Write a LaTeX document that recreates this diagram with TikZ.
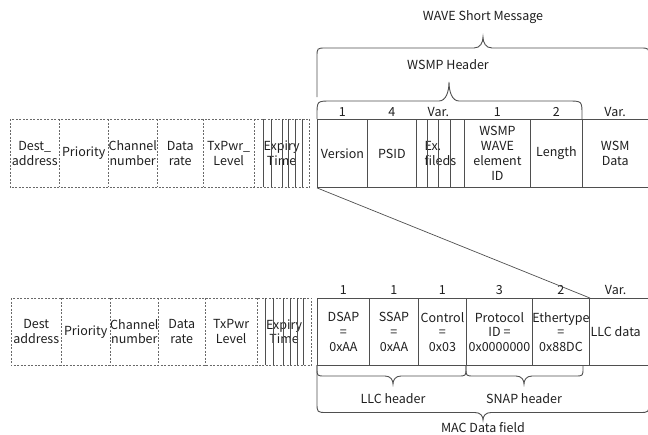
\documentclass[tikz,border=0pt]{standalone}
\usepackage{fontspec}
\setmainfont{Noto Sans CJK KR}
\definecolor{ink}{HTML}{1E1E1E}
\definecolor{rule}{HTML}{4F4F4F}
\tikzset{
  base/.style={font=\fontsize{12.5}{14.8}\selectfont, text=ink, inner sep=0pt},
  cell/.style={base, anchor=north west, align=center, minimum height=68pt},
  solidcell/.style={cell, draw=rule, line width=0.9pt},
  openline/.style={draw=rule, line width=0.9pt},
  dashline/.style={draw=rule!85, line width=0.8pt, dash pattern=on 2pt off 1.5pt},
  bracestyle/.style={draw=rule, line width=0.9pt},
  num/.style={base, anchor=base},
}
% horizontal curly brace: x1, x2, y of the free ends, y of the bar, x of tip, y of tip, corner radius, tip half-width
\newcommand\fieldbrace[8]{%
  \draw[bracestyle] (#1,#3) -- (#1,{#4+#7*sign(#3-#4)})
    .. controls (#1,#4) .. ({#1+#7},#4) -- ({#5-#8},#4)
    .. controls ({#5-0.3*#8},#4) and (#5,{#4+0.5*(#6-#4)}) .. (#5,#6)
    .. controls (#5,{#4+0.5*(#6-#4)}) and ({#5+0.3*#8},#4) .. ({#5+#8},#4)
    -- ({#2-#7},#4) .. controls (#2,#4) .. (#2,{#4+#7*sign(#3-#4)}) -- (#2,#3);}
\begin{document}
\begin{tikzpicture}[x=1pt, y=-1pt]
\useasboundingbox (0,0) rectangle (648,434);
\clip (0,0) rectangle (648,434);

% ---------- upper frame: WSMP request primitive fields ----------
\node[cell, minimum width=49pt] (d1) at (10,119) {Dest\_\\address};
\node[cell, minimum width=49pt] (d2) at (59,119) {Priority};
\node[cell, minimum width=49pt] (d3) at (108,119) {Channel\\number};
\node[cell, minimum width=46pt] (d4) at (157,119) {Data\\rate};
\node[cell, minimum width=51pt] (d5) at (203,119) {TxPwr\_\\Level};
\node[cell, minimum width=55pt] (d6) at (254,119) {Expiry\\Time};
\draw[dashline] (d1.north west) rectangle (d6.south east);
\foreach \c in {d1,d2,d3,d4,d5}
  \draw[dashline] (\c.north east) -- (\c.south east);
\foreach \dx in {9,17,28.5,34.5,41.5,48}
  \draw[openline] ([xshift=\dx pt]d6.north west) -- ([xshift=\dx pt]d6.south west);

% WSMP packet
\node[solidcell, minimum width=50pt] (ver) at (317,119) {Version};
\node[solidcell, minimum width=49pt] (psid) at (367,119) {PSID};
\node[solidcell, minimum width=48pt, align=left] (exf) at (416,119) {Ex.\\fileds};
\node[solidcell, minimum width=66pt] (wid) at (464,119) {WSMP\\WAVE\\element\\ID};
\node[solidcell, minimum width=52pt] (len) at (530,119) {Length};
\node[cell, minimum width=66pt] (wsm) at (582,119) {WSM\\Data};
\draw[openline] (wsm.north west) -- (wsm.north east);
\draw[openline] (wsm.south west) -- (wsm.south east);
\foreach \dx in {11,22,34}
  \draw[openline] ([xshift=\dx pt]exf.north west) -- ([xshift=\dx pt]exf.south west);

\node[num] (t1) at ([yshift=2.5pt]ver.north) {1};
\node[num] (t2) at ([yshift=2.5pt]psid.north) {4};
\node[num] (t3) at ([yshift=2.5pt, xshift=-2pt]exf.north) {Var.};
\node[num] (t4) at ([yshift=2.5pt]wid.north) {1};
\node[num] (t5) at ([yshift=2.5pt]len.north) {2};
\node[num] (t6) at ([yshift=2.5pt]wsm.north) {Var.};

\fieldbrace{317}{582}{119}{101}{449}{82}{14}{10}
\node[base] (lwsmp) at (448,65) {WSMP Header};
\fieldbrace{317}{649}{97}{48}{483}{37}{9}{9}
\node[base] (lwave) at (483,17) {WAVE Short Message};

% ---------- lower frame: MAC data with LLC/SNAP ----------
\node[cell, minimum width=50pt, minimum height=67pt] (b1) at (11,298) {Dest\\address};
\node[cell, minimum width=49pt, minimum height=67pt] (b2) at (61,298) {Priority};
\node[cell, minimum width=48pt, minimum height=67pt] (b3) at (110,298) {Channel\\number};
\node[cell, minimum width=47pt, minimum height=67pt] (b4) at (158,298) {Data\\rate};
\node[cell, minimum width=52pt, minimum height=67pt] (b5) at (205,298) {TxPwr\\Level};
\node[cell, minimum width=54pt, minimum height=67pt] (b6) at (257,298) {Expiry\\Time};
\draw[dashline] (b1.north west) rectangle (b6.south east);
\foreach \c in {b1,b2,b3,b4,b5}
  \draw[dashline] (\c.north east) -- (\c.south east);
\foreach \dx in {8,16,26,33.5,40.5,46.5}
  \draw[openline] ([xshift=\dx pt]b6.north west) -- ([xshift=\dx pt]b6.south west);

\node[solidcell, minimum width=52pt, minimum height=67pt] (dsap) at (317,298) {DSAP\\=\\0xAA};
\node[solidcell, minimum width=49pt, minimum height=67pt] (ssap) at (369,298) {SSAP\\=\\0xAA};
\node[solidcell, minimum width=48pt, minimum height=67pt] (ctl) at (418,298) {Control\\=\\0x03};
\node[solidcell, minimum width=66pt, minimum height=67pt] (pid) at (466,298) {Protocol\\ID =\\0x0000000};
\node[solidcell, minimum width=51pt, minimum height=67pt] (eth) at (532,298) {Ethertype\\=\\0x88DC};
\node[cell, minimum width=65pt, minimum height=67pt] (llc) at (583,298) {LLC data};
\draw[openline] (llc.north west) -- (llc.north east);
\draw[openline] (llc.south west) -- (llc.south east);

\node[num] (u1) at ([yshift=3.5pt]dsap.north) {1};
\node[num] (u2) at ([yshift=3.5pt]ssap.north) {1};
\node[num] (u3) at ([yshift=3.5pt]ctl.north) {1};
\node[num] (u4) at ([yshift=3.5pt]pid.north) {3};
\node[num] (u5) at ([yshift=3.5pt]eth.north) {2};
\node[num] (u6) at ([yshift=3.5pt]llc.north) {Var.};

% the WSMP packet is carried as LLC data
\draw[openline, line width=0.7pt] (ver.south west) -- (eth.north east);

\fieldbrace{317}{466}{365}{376}{393}{384}{8}{8}
\fieldbrace{466}{583}{365}{376}{524}{384}{8}{8}
\node[base] (lllc) at (393,399) {LLC header};
\node[base] (lsnap) at (524,399) {SNAP header};
\fieldbrace{317}{649}{365}{412.5}{483}{420}{10}{8}
\node[base, anchor=base] (lmac) at (483,432) {MAC Data field};
\end{tikzpicture}
\end{document}
